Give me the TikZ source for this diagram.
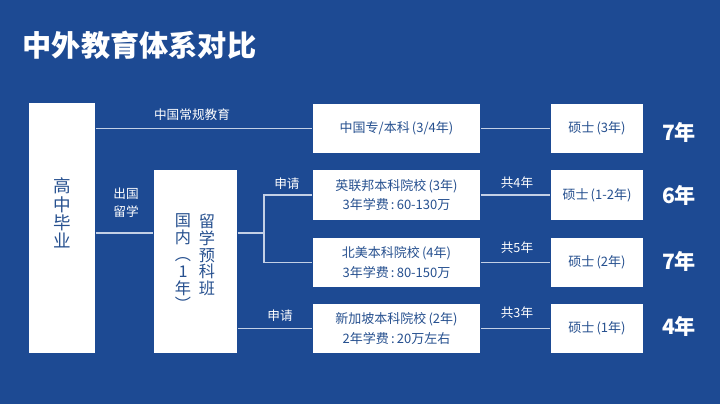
\documentclass[tikz,border=0pt]{standalone}
\usepackage{fontspec}
\setmainfont{Noto Sans CJK SC}
\definecolor{bgblue}{HTML}{1D4A93}
\definecolor{boxtext}{HTML}{26508F}
\definecolor{linegray}{HTML}{C3D0E6}

\begin{document}
\begin{tikzpicture}[x=0.01cm, y=-0.01cm,
box/.style = {draw=none, fill=white, text=boxtext, inner sep=0pt, align=center,
  font=\fontsize{3.7pt}{5.5pt}\selectfont},
school/.style = {box, minimum width=1.67cm, minimum height=0.49cm},
master/.style = {box, minimum width=0.92cm, minimum height=0.49cm},
label/.style = {text=white, inner sep=0pt, align=center, font=\fontsize{3.6pt}{5.4pt}\selectfont},
years/.style = {text=white, inner sep=0pt, font=\fontsize{6pt}{7pt}\selectfont\bfseries},
link/.style = {draw=linegray, line width=0.3pt},
]

% Background
\fill[bgblue] (0,0) rectangle (720,404);
\useasboundingbox (0,0) rectangle (720,404);

% Title
\node[anchor=west, text=white, inner sep=0pt, font=\fontsize{8.3pt}{9pt}\selectfont\bfseries] (title) at (22,45) {中外教育体系对比};

% Draw boxes
\node[box, minimum width=0.66cm, minimum height=2.5cm] (grad) at (62,228) {};
\node[box, font=\fontsize{5pt}{5.2pt}\selectfont] (gradtxt) at (62,213) {高\\中\\毕\\业};
\node[box, minimum width=0.83cm, minimum height=1.83cm] (prep) at (195.5,261.5) {};
\node[box, anchor=north, font=\fontsize{4.6pt}{4.8pt}\selectfont] (preptxt) at (207,213) {留\\学\\预\\科\\班};
\node[box, anchor=north, font=\fontsize{4.6pt}{4.8pt}\selectfont] (domtxt) at (183,213) {国\\内\\︵\\1\\年\\︶};

\node[school] (cn) at (396.5,128.5) {中国专/本科\,(3/4年)};
\node[school] (uk) at (396.5,195) {英联邦本科院校\,(3年)\\3年学费\,:\,60-130万};
\node[school] (na) at (396.5,262.5) {北美本科院校\,(4年)\\3年学费\,:\,80-150万};
\node[school] (sg) at (396.5,328.5) {新加坡本科院校\,(2年)\\2年学费\,:\,20万左右};

\node[master] (ms1) at (597,128.5) {硕士\,(3年)};
\node[master] (ms2) at (597,195) {硕士\,(1-2年)};
\node[master] (ms3) at (597,262.5) {硕士\,(2年)};
\node[master] (ms4) at (597,328.5) {硕士\,(1年)};

% Draw edges
\coordinate (fork) at (264,233);
\draw[link] (grad.east |- cn.west) -- (cn.west);
\draw[link] (grad.east |- fork) -- (prep.west |- fork);
\draw[link] (prep.east |- fork) -- (fork);
\draw[link] (uk.west) -| (fork) |- (na.west);
\draw[link] (prep.east |- sg.west) -- (sg.west);
\draw[link] (cn.east) -- (ms1.west);
\draw[link] (uk.east) -- (ms2.west);
\draw[link] (na.east) -- (ms3.west);
\draw[link] (sg.east) -- (ms4.west);

% Label edges
\node[label] (regular) at (192,115) {中国常规教育};
\node[label] (abroad) at (126,203) {出国\\[-0.3pt]留学};
\node[label] (apply1) at (287,184) {申请};
\node[label] (apply2) at (280,316) {申请};
\node[label] (tot4) at (517,183) {共4年};
\node[label] (tot5) at (517,248) {共5年};
\node[label] (tot3) at (517,313) {共3年};

% Total years
\node[years] (y1) at (679,132) {7年};
\node[years] (y2) at (679,195) {6年};
\node[years] (y3) at (679,261) {7年};
\node[years] (y4) at (679,326) {4年};

\end{tikzpicture}
\end{document}
